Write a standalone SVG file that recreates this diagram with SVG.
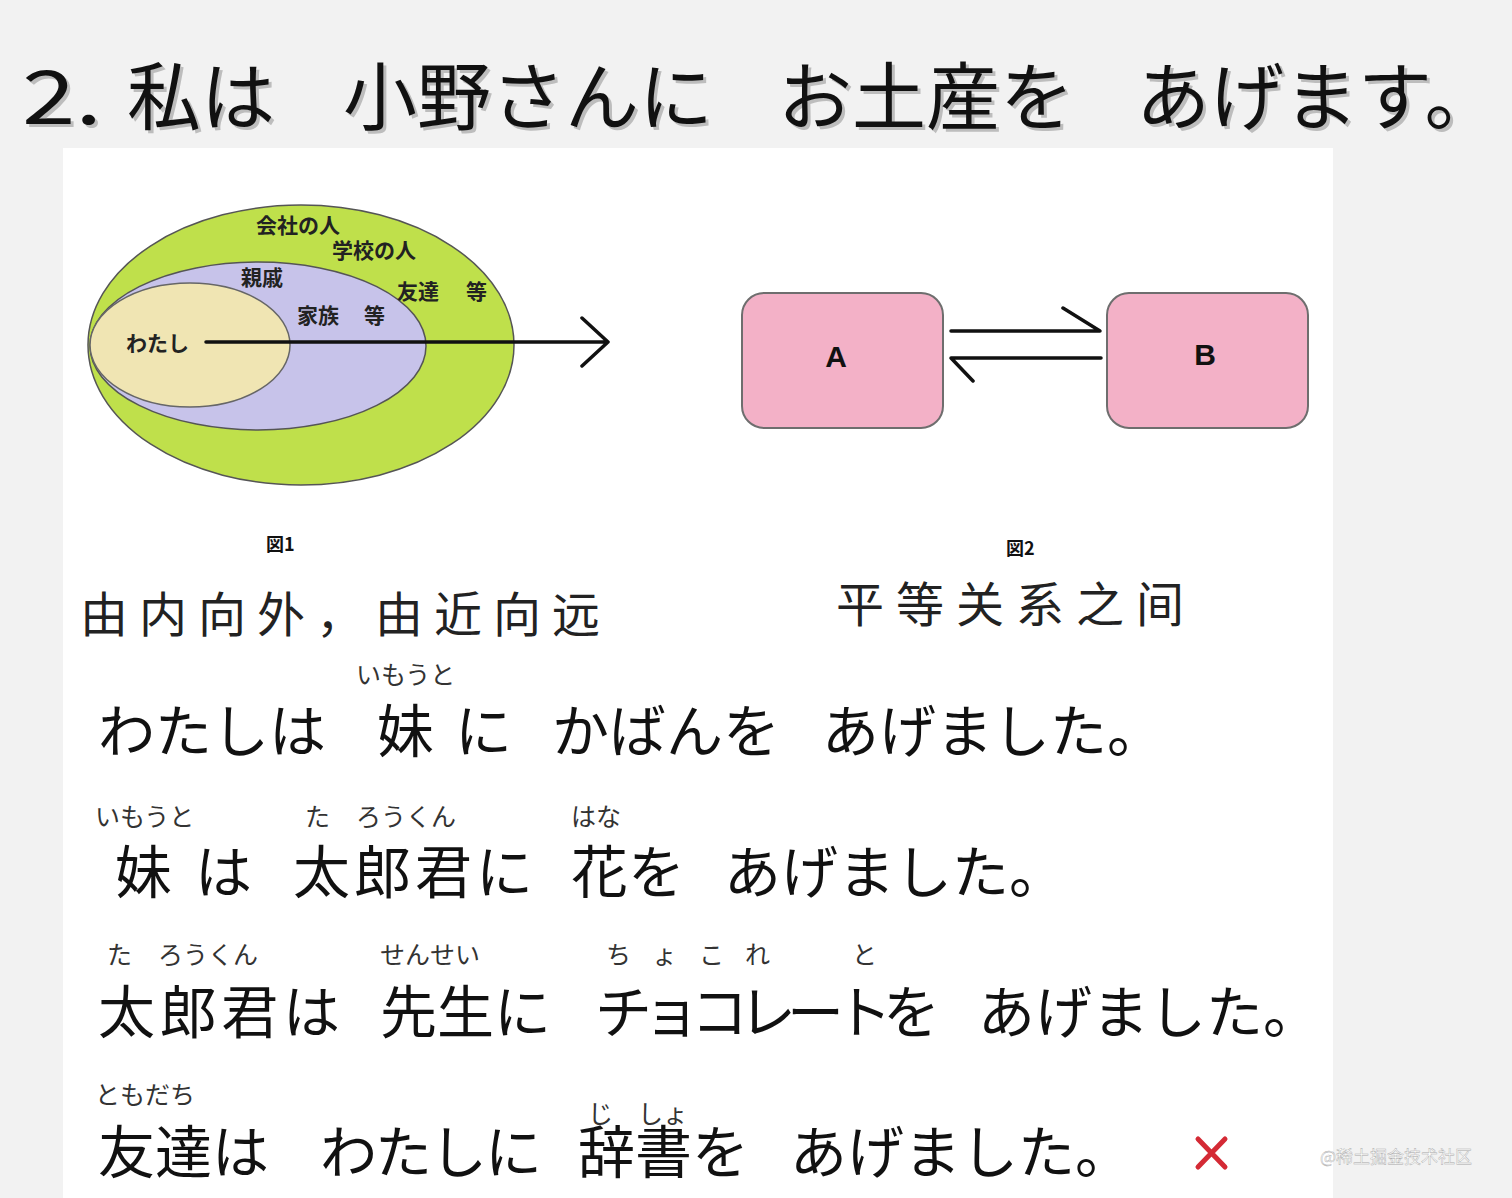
<svg xmlns="http://www.w3.org/2000/svg" width="1512" height="1198" viewBox="0 0 1512 1198">
<style>
.jp{font-family:"Noto Sans CJK JP","Noto Sans CJK SC",sans-serif;fill:#111}
.title{font-size:74px;font-weight:400}
.shadow{fill:#9a9a9a;opacity:0.6}
.sent{font-size:57px}
.furi{font-size:25px;fill:#333}
.lbl{font-size:21px;font-weight:700;fill:#222}
.zh{font-family:"Noto Sans CJK SC",sans-serif;font-size:48px;font-weight:400;fill:#222;letter-spacing:11px}
.box{fill:#f3b1c7;stroke:#6e6e6e;stroke-width:2}
.conn{fill:none;stroke:#111;stroke-width:3.5;stroke-linecap:round;stroke-linejoin:round}
.boxtxt{font-family:"Liberation Sans",sans-serif;font-size:30px;font-weight:700;fill:#111}
</style>
<rect x="0" y="0" width="1512" height="1198" fill="#f2f2f2"/>
<rect x="63" y="148" width="1270" height="1050" fill="#ffffff"/>

<g id="title">
  <g transform="translate(3,3)">
    <text class="jp title shadow" x="22" y="124" transform="translate(22,0) scale(1.3,1) translate(-22,0)">2.</text>
    <text class="jp title shadow" x="127" y="124">私は</text>
    <text class="jp title shadow" x="343" y="124">小野さんに</text>
    <text class="jp title shadow" x="778" y="124">お土産を</text>
    <text class="jp title shadow" x="1136" y="124">あげます。</text>
  </g>
  <text class="jp title" x="22" y="124" transform="translate(22,0) scale(1.3,1) translate(-22,0)">2.</text>
  <text class="jp title" x="127" y="124">私は</text>
  <text class="jp title" x="343" y="124">小野さんに</text>
  <text class="jp title" x="778" y="124">お土産を</text>
  <text class="jp title" x="1136" y="124">あげます。</text>
</g>

<g id="figure1">
  <ellipse id="outer" cx="301" cy="345" rx="213" ry="140" fill="#bfe04b" stroke="#555" stroke-width="1.5"/>
  <ellipse id="middle" cx="258" cy="346" rx="168" ry="84" fill="#c7c3ea" stroke="#555" stroke-width="1.5"/>
  <ellipse id="inner" cx="190" cy="345" rx="100" ry="62" fill="#f0e5b3" stroke="#666" stroke-width="1.5"/>
  <text class="jp lbl" x="256" y="233">会社の人</text>
  <text class="jp lbl" x="332" y="258">学校の人</text>
  <text class="jp lbl" x="241" y="285">親戚</text>
  <text class="jp lbl" x="397" y="299">友達</text>
  <text class="jp lbl" x="466" y="299">等</text>
  <text class="jp lbl" x="297" y="323">家族</text>
  <text class="jp lbl" x="364" y="323">等</text>
  <text class="jp lbl" x="126" y="351">わたし</text>
  <text class="jp" x="266" y="551" font-size="18" font-weight="700">図1</text>
</g>

<g id="nodeA">
  <rect class="box" x="742" y="293" width="201" height="135" rx="22"/>
  <text class="boxtxt" x="836" y="367" text-anchor="middle">A</text>
</g>
<g id="nodeB">
  <rect class="box" x="1107" y="293" width="201" height="135" rx="22"/>
  <text class="boxtxt" x="1205" y="365" text-anchor="middle">B</text>
</g>
<text class="jp" x="1006" y="555" font-size="18" font-weight="700">図2</text>

<g id="connectors">
  <path class="conn" d="M206 342 H608 M582 318 L608 342 L582 366"/>
  <path class="conn" d="M951 331 H1100 L1063 308"/>
  <path class="conn" d="M1101 358 H951 L973 381"/>
</g>

<g id="captions">
  <text class="zh" x="80" y="632">由内向外，由近向远</text>
  <text class="zh" x="836" y="622" style="letter-spacing:12px">平等关系之间</text>
</g>

<g id="sentence1">
  <text class="jp furi" x="356" y="684" font-size="24">いもうと</text>
  <text class="jp sent" x="98" y="752">わたしは</text>
  <text class="jp sent" x="377" y="752">妹</text>
  <text class="jp sent" x="455" y="752">に</text>
  <text class="jp sent" x="552" y="752">かばんを</text>
  <text class="jp sent" x="822" y="752">あげました。</text>
</g>

<g id="sentence2">
  <text class="jp furi" x="95" y="826" font-size="24">いもうと</text>
  <text class="jp furi" x="305" y="826">た</text>
  <text class="jp furi" x="356" y="826">ろうくん</text>
  <text class="jp furi" x="571" y="826">はな</text>
  <text class="jp sent" x="115" y="893">妹</text>
  <text class="jp sent" x="195" y="893">は</text>
  <text class="jp sent" x="293" y="893" textLength="240">太郎君に</text>
  <text class="jp sent" x="571" y="893">花を</text>
  <text class="jp sent" x="724" y="893">あげました。</text>
</g>

<g id="sentence3">
  <text class="jp furi" x="107" y="964">た</text>
  <text class="jp furi" x="158" y="964">ろうくん</text>
  <text class="jp furi" x="380" y="964">せんせい</text>
  <text class="jp furi" x="606" y="964">ち</text>
  <text class="jp furi" x="652" y="964">ょ</text>
  <text class="jp furi" x="699" y="964">こ</text>
  <text class="jp furi" x="745" y="964">れ</text>
  <text class="jp furi" x="852" y="964">と</text>
  <text class="jp sent" x="98" y="1033" textLength="242">太郎君は</text>
  <text class="jp sent" x="380" y="1033">先生に</text>
  <text class="jp sent" x="595" y="1033" textLength="345">チョコレートを</text>
  <text class="jp sent" x="978" y="1033">あげました。</text>
</g>

<g id="sentence4">
  <text class="jp furi" x="95" y="1104" font-size="28">ともだち</text>
  <text class="jp furi" x="588" y="1123">じ</text>
  <text class="jp furi" x="638" y="1123">しょ</text>
  <text class="jp sent" x="98" y="1173">友達は</text>
  <text class="jp sent" x="320" y="1173" textLength="222">わたしに</text>
  <text class="jp sent" x="578" y="1173">辞書を</text>
  <text class="jp sent" x="790" y="1173">あげました。</text>
</g>

<g id="cross">
  <path d="M1198 1139 L1225 1167 M1225 1139 L1198 1167" stroke="#d42a35" stroke-width="5" stroke-linecap="round" fill="none"/>
</g>

<text x="1320" y="1163" font-family="Noto Sans CJK SC, sans-serif" font-size="17" fill="#ffffff" stroke="#a8a8a8" stroke-width="0.4">@稀土掘金技术社区</text>
</svg>
